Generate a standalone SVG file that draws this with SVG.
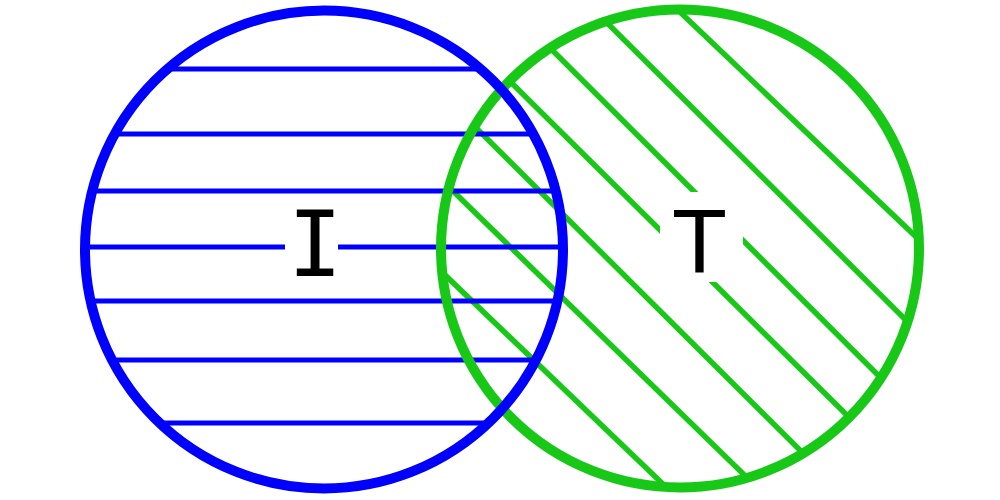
<svg xmlns="http://www.w3.org/2000/svg" width="1000" height="500" viewBox="0 0 1000 500">
<style>
.bl{stroke:#0000FF;stroke-width:5;fill:none}
.gl{stroke:#17C817;stroke-width:5.5;fill:none}
.bc{stroke:#0000FF;stroke-width:10;fill:none}
.gc{stroke:#17C817;stroke-width:10;fill:none}
.lab{font-size:90px;fill:#000;text-anchor:middle}
</style>
<defs>
<clipPath id="cb"><circle cx="324" cy="249.5" r="239"/></clipPath>
<clipPath id="cg"><circle cx="680" cy="248.5" r="239"/></clipPath>
</defs>
<rect width="1000" height="500" fill="#fff"/>
<g id="T-hatch" clip-path="url(#cg)">
<line class="gl" x1="660" y1="-7" x2="933" y2="253"/>
<line class="gl" x1="580" y1="-4" x2="930" y2="344"/>
<line class="gl" x1="520" y1="18" x2="900" y2="397"/>
<line class="gl" x1="450" y1="22" x2="870" y2="438"/>
<line class="gl" x1="430" y1="82" x2="830" y2="480"/>
<line class="gl" x1="420" y1="159" x2="770" y2="500"/>
<line class="gl" x1="420" y1="251" x2="690" y2="510"/>
</g>
<g id="I-hatch" clip-path="url(#cb)">
<line class="bl" x1="60" y1="69" x2="600" y2="69"/>
<line class="bl" x1="60" y1="134" x2="600" y2="134"/>
<line class="bl" x1="60" y1="191" x2="600" y2="191"/>
<line class="bl" x1="60" y1="247" x2="600" y2="247"/>
<line class="bl" x1="60" y1="301" x2="600" y2="301"/>
<line class="bl" x1="60" y1="360" x2="600" y2="360"/>
<line class="bl" x1="60" y1="423" x2="600" y2="423"/>
</g>
<g id="labels">
<rect x="285" y="200" width="53" height="90" fill="#fff"/>
<rect x="660" y="192" width="83" height="90" fill="#fff"/>
<text class="lab" x="315" y="276" font-family="DejaVu Sans Mono, monospace">I</text>
<text class="lab" x="699.5" y="273" font-family="Liberation Sans, Arial, sans-serif">T</text>
</g>
<g id="T">
<circle class="gc" cx="680" cy="248.5" r="239"/>
</g>
<g id="I">
<circle class="bc" cx="324" cy="249.5" r="239"/>
</g>
</svg>
